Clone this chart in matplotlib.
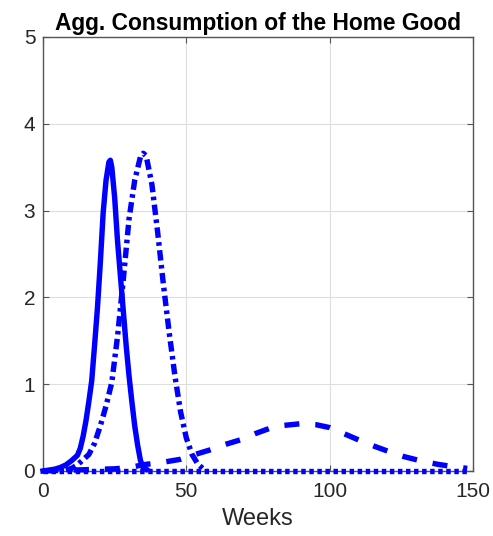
"""
Aggregate consumption of the home good (MATLAB-style figure)
"""

import matplotlib
matplotlib.use("Agg")
import matplotlib.pyplot as plt

plt.rcParams['font.family'] = ['Liberation Sans', 'DejaVu Sans']
plt.rcParams['lines.scale_dashes'] = False

# Solid line
weeks_solid = [0, 2, 4, 6, 8, 10, 12, 13, 14, 15, 16, 17, 18, 19, 20, 21, 22, 23, 23.5,
               24, 25, 26, 27, 28, 29, 30, 31, 32, 33, 34, 35, 36]
cons_solid = [0.0, 0.01, 0.02, 0.04, 0.07, 0.12, 0.18, 0.26, 0.40, 0.58, 0.80, 1.04, 1.45,
              1.88, 2.40, 2.98, 3.35, 3.56, 3.58, 3.50, 3.15, 2.65, 2.25, 1.85, 1.45, 1.10,
              0.80, 0.52, 0.30, 0.12, 0.04, 0.02]

# Dash-dot line
weeks_dashdot = [8, 10, 12, 14, 16, 18, 20, 22, 24, 26, 28, 30, 32, 34, 35, 36, 38,
                 40, 42, 44, 46, 48, 50, 52, 54, 56, 57]
cons_dashdot = [0.01, 0.03, 0.07, 0.13, 0.19, 0.32, 0.52, 0.75, 1.02, 1.55, 2.2,
                2.9, 3.35, 3.62, 3.66, 3.63, 3.3, 2.75, 2.15, 1.6, 1.1, 0.68, 0.38, 0.19,
                0.08, 0.02, 0.0]

# Dashed line
weeks_dashed = [0, 10, 20, 25, 30, 36, 40, 48, 52, 58, 64, 69, 74, 79, 84, 90, 95, 100,
                105, 111, 116, 121, 126, 132, 138, 144, 148]
cons_dashed = [0.0, 0.01, 0.02, 0.025, 0.04, 0.077, 0.09, 0.135, 0.18, 0.24, 0.31, 0.36,
               0.43, 0.49, 0.525, 0.545, 0.535, 0.50, 0.43, 0.345, 0.28, 0.22, 0.165,
               0.115, 0.075, 0.046, 0.03]

# Dotted line
weeks_dotted = [0, 50, 100, 149]
cons_dotted = [0.0, 0.0, 0.0, 0.0]

blue = '#0000FF'
grey = '#262626'

fig = plt.figure(figsize=(4.93, 5.36), dpi=100)
ax = fig.add_axes([0.0872, 0.1213, 0.8722, 0.8097])

lw = 3.9
ax.plot(weeks_solid, cons_solid, color=blue, lw=lw, solid_joinstyle='round',
        clip_on=False, zorder=3)
ax.plot(weeks_dashdot, cons_dashdot, color=blue, lw=lw,
        linestyle=(0, (7.5, 3.2, 2.6, 3.2)), dash_capstyle='butt',
        clip_on=False, zorder=3)
ax.plot(weeks_dashed, cons_dashed, color=blue, lw=lw,
        linestyle=(0, (10.8, 11.5)), dash_capstyle='butt', clip_on=False, zorder=3)
ax.plot(weeks_dotted, cons_dotted, color=blue, lw=lw,
        linestyle=(0, (3.2, 2.6)), dash_capstyle='butt', clip_on=False, zorder=4)

ax.set_xlim(0, 150)
ax.set_ylim(0, 5)
ax.set_xticks([0, 50, 100, 150])
ax.set_yticks([0, 1, 2, 3, 4, 5])
ax.grid(True, color='#dedede', lw=0.8)
ax.set_axisbelow(True)

ax.tick_params(direction='in', length=4, width=0.8, colors='#555555',
               labelcolor=grey, labelsize=15, top=True, right=True, pad=5.5)
ax.tick_params(axis='x', pad=8)
for s in ax.spines.values():
    s.set_color('#555555')
    s.set_linewidth(1.0)

ax.set_xlabel('Weeks', fontsize=17, color=grey, labelpad=5)
ax.set_title('Agg. Consumption of the Home Good', fontsize=16.4,
             fontweight='bold', pad=5)

fig.savefig('out.png', dpi=100)
